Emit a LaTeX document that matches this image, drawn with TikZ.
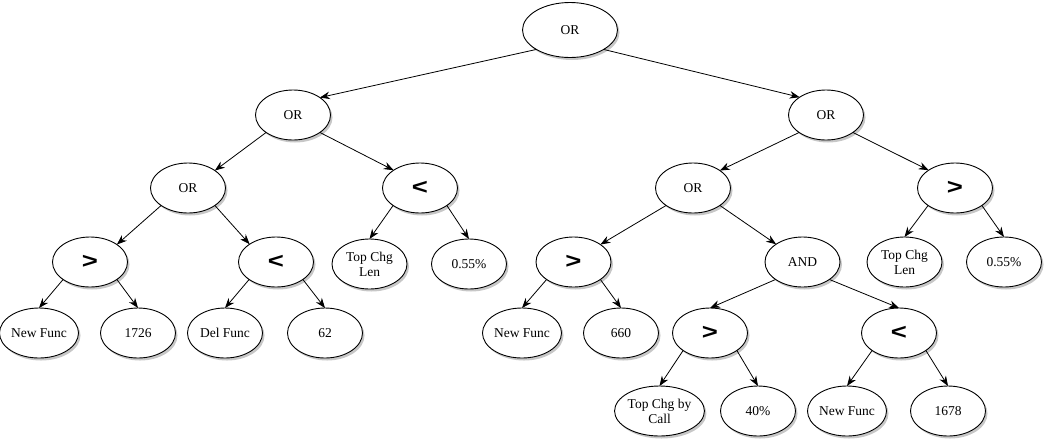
\documentclass[tikz,border=0pt]{standalone}
\usepackage{fontspec}
\setmainfont{Liberation Serif}
\newfontfamily\opfont{Liberation Sans}
\usetikzlibrary{shapes.geometric,arrows.meta,shadows}

\newcommand{\opsym}[1]{\scalebox{1.25}[1]{#1}}

\tikzset{
  tnode/.style={ellipse, draw=black, line width=0.9pt, fill=white,
    minimum width=75pt, minimum height=50pt, inner sep=0pt, outer sep=0pt,
    align=center, font=\fontsize{13.5}{15}\selectfont,
    drop shadow={shadow xshift=2pt, shadow yshift=-2.5pt, fill=black, opacity=0.22}},
  rootnode/.style={tnode, minimum width=95pt, minimum height=55pt},
  opnode/.style={tnode, font=\opfont\bfseries\fontsize{22}{22}\selectfont},
  link/.style={line width=0.8pt, -{Stealth[length=10pt,width=7.5pt]}}
}

\begin{document}
\begin{tikzpicture}[x=1pt,y=-1pt]
\useasboundingbox (0,0) rectangle (1044,440);

% level 0
\node[rootnode] (root) at (570,30) {OR};
% level 1
\node[tnode] (orL) at (293,115) {OR};
\node[tnode] (orR) at (826,115) {OR};
% level 2
\node[tnode]  (orLL) at (188,188) {OR};
\node[opnode] (ltL)  at (420,188) {\opsym{<}};
\node[tnode]  (orRL) at (693,188) {OR};
\node[opnode] (gtR)  at (955,188) {\opsym{>}};
% level 3
\node[opnode] (gtA)  at (90,262)    {\opsym{>}};
\node[opnode] (ltA)  at (276,262)   {\opsym{<}};
\node[tnode]  (tclA) at (369.5,264) {Top Chg\\Len};
\node[tnode]  (pcA)  at (469,264)   {0.55\%};
\node[opnode] (gtB)  at (573.5,262) {\opsym{>}};
\node[tnode]  (and)  at (802.5,262) {AND};
\node[tnode]  (tclB) at (904.5,262) {Top Chg\\Len};
\node[tnode]  (pcB)  at (1004,262)  {0.55\%};
% level 4
\node[tnode]  (nfA)  at (39,333)  {New Func};
\node[tnode]  (nA)   at (138,333) {1726};
\node[tnode]  (dfA)  at (225,333) {Del Func};
\node[tnode]  (nB)   at (325,333) {62};
\node[tnode]  (nfB)  at (522,333) {New Func};
\node[tnode]  (nC)   at (621,333) {660};
\node[opnode] (gtC)  at (710,333) {\opsym{>}};
\node[opnode] (ltC)  at (899,333) {\opsym{<}};
% level 5
\node[tnode]  (tcc)  at (659.5,411) {Top Chg by\\Call};
\node[tnode]  (pcC)  at (758,411)   {40\%};
\node[tnode]  (nfC)  at (847,411)   {New Func};
\node[tnode]  (nD)   at (948,411)   {1678};

% wide branches: lower shoulder of the parent to upper shoulder of the child
\draw[link] (root.210) -- (orL.33.7);
\draw[link] (root.-30) -- (orR.146.3);
\foreach \p/\l/\r in {orL/orLL/ltL, orR/orRL/gtR, orLL/gtA/ltA, orRL/gtB/and}{
  \draw[link] (\p.213.7) -- (\l.33.7);
  \draw[link] (\p.-33.7) -- (\r.146.3);
}
% narrow branches: lower shoulder of the parent to the top of the child
\foreach \p/\l/\r in {ltL/tclA/pcA, gtR/tclB/pcB, gtA/nfA/nA, ltA/dfA/nB,
                      gtB/nfB/nC, and/gtC/ltC, gtC/tcc/pcC, ltC/nfC/nD}{
  \draw[link] (\p.213.7) -- (\l.north);
  \draw[link] (\p.-33.7) -- (\r.north);
}
\end{tikzpicture}
\end{document}
